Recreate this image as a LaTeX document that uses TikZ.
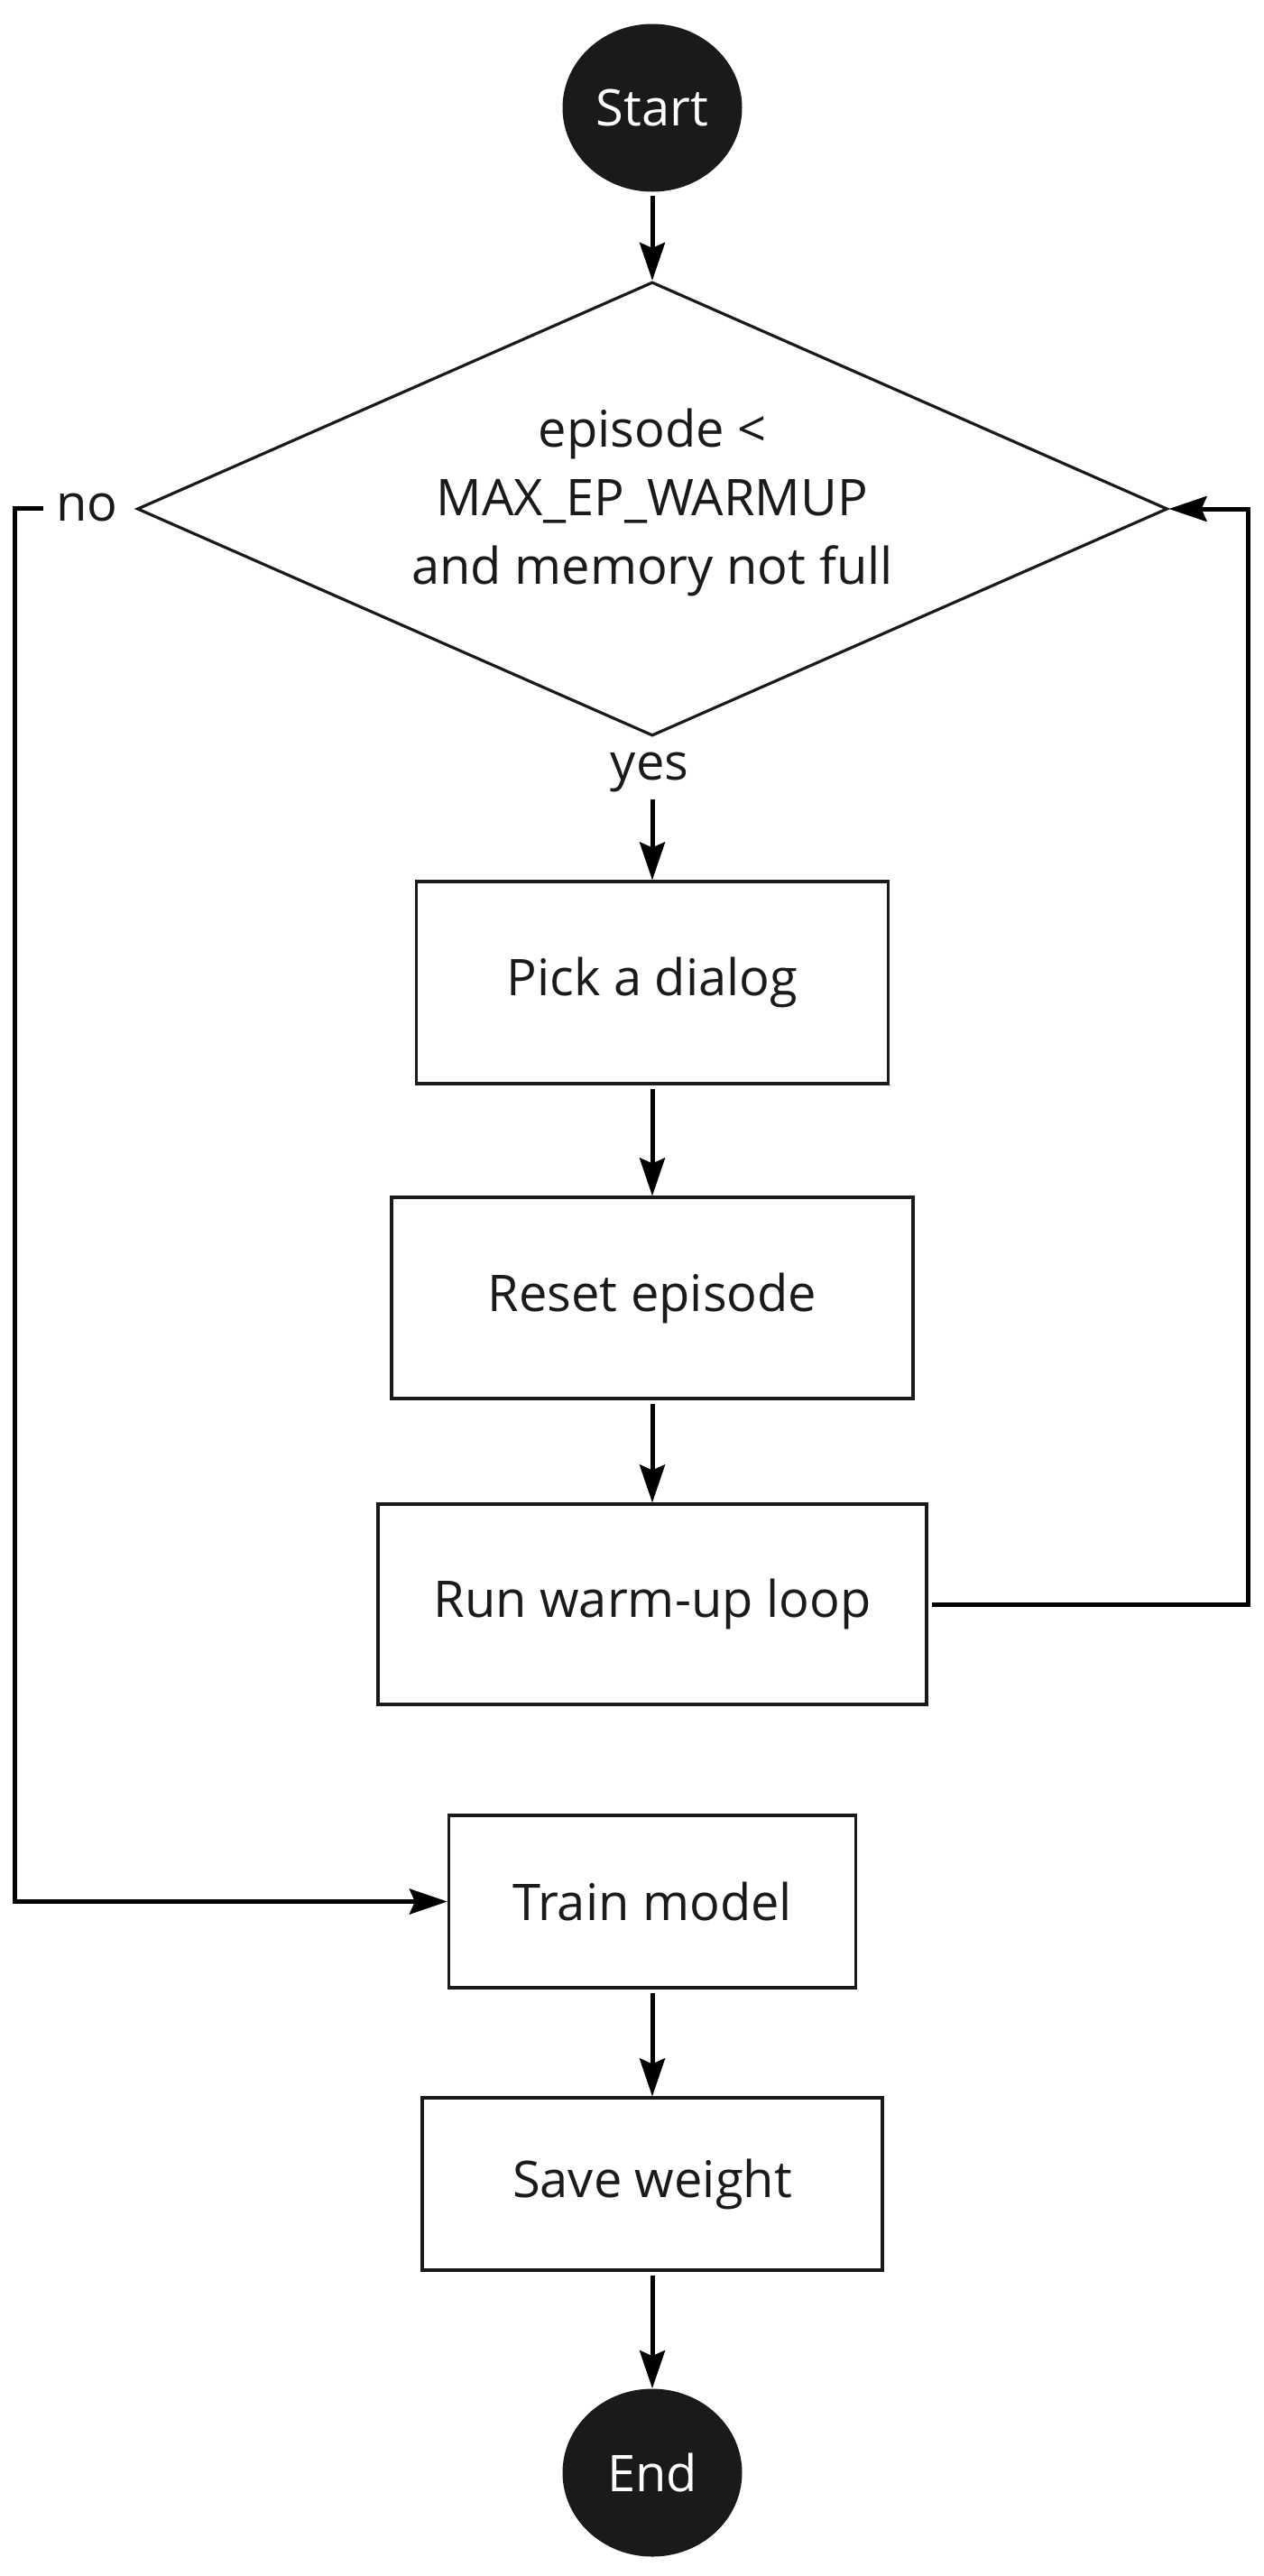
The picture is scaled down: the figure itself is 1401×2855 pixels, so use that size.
\documentclass[tikz,border=0pt]{standalone}
\usepackage{fontspec}
\setmainfont{Open Sans}
\usetikzlibrary{shapes.geometric,arrows.meta}
\definecolor{ink}{HTML}{1A1A1A}
\begin{document}
\begin{tikzpicture}[x=0.5pt,y=-0.5pt,
  every node/.style={font=\fontsize{28}{38}\selectfont, text=ink},
  term/.style={ellipse, fill=ink, text=white, minimum width=99.5pt, minimum height=93pt, inner sep=0pt},
  proc/.style={rectangle, draw=ink, line width=1.6pt, fill=white, inner sep=0pt},
  decision/.style={diamond, draw=ink, line width=1.6pt, inner sep=0pt, minimum width=571pt, minimum height=251.5pt},
  arr/.style={draw=black, line width=2.5pt, -{Stealth[length=21pt,width=14pt,inset=3pt]}},
  lbl/.style={inner sep=0pt, align=center}]
\useasboundingbox (0,0) rectangle (1401,2855);
\fill[white] (0,0) rectangle (1401,2855);

\node[term] (start) at (723,119.5) {Start};
\node[decision] (dec) at (723,564) {};
\node[lbl] (dectext) at (723,557) {episode <\\MAX\_EP\_WARMUP\\and memory not full};
\node[lbl] (yes) at (720,856) {yes};
\node[lbl,anchor=east] (no) at (131,563) {no};
\node[proc, minimum width=261.5pt, minimum height=112pt] (pick) at (723,1089) {Pick a dialog};
\node[proc, minimum width=289pt, minimum height=111.5pt] (reset) at (723,1438.5) {Reset episode};
\node[proc, minimum width=304pt, minimum height=111pt] (run) at (723,1778) {Run warm-up loop};
\node[proc, minimum width=225.5pt, minimum height=95.5pt] (train) at (723,2107.5) {Train model};
\node[proc, minimum width=255pt, minimum height=95.5pt] (save) at (723,2420.5) {Save weight};
\node[term] (end) at (723,2740.5) {End};

\coordinate (nl) at (16,563);
\coordinate (rl) at (1383,1778);

\draw[arr, shorten <=2pt] (start) -- (dec);
\draw[arr, shorten <=4pt] (yes.south -| pick.north) -- (pick.north);
\draw[arr, shorten <=2pt] (pick) -- (reset);
\draw[arr, shorten <=2pt] (reset) -- (run);
\draw[arr, shorten <=2pt] (train) -- (save);
\draw[arr, shorten <=2pt] (save) -- (end);
\draw[arr, shorten <=7pt] (no.west) -- (nl) |- (train.west);
\draw[arr, shorten <=2pt] (run.east) -- (rl) |- (dec.east);
\end{tikzpicture}
\end{document}
